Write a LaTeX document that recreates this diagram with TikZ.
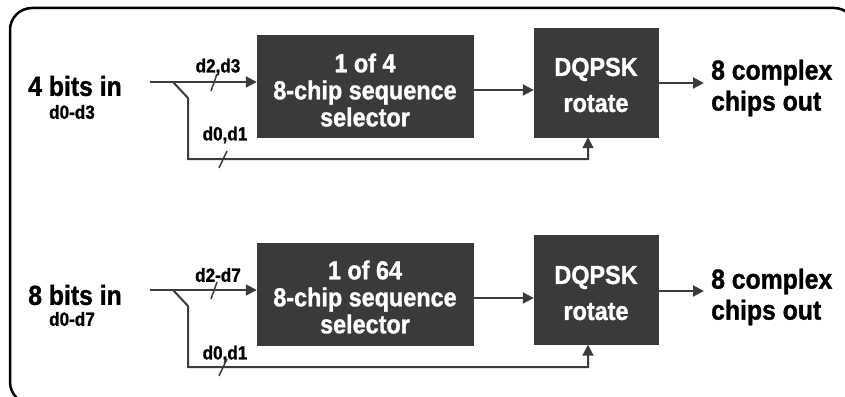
\documentclass[tikz,border=0pt]{standalone}
\usepackage{fontspec}
\setmainfont{Liberation Sans}[FakeStretch=0.9, BoldFeatures={FakeBold=1.2}]
\usetikzlibrary{arrows.meta}
\definecolor{boxgray}{HTML}{3A3A3A}
\definecolor{linegray}{HTML}{3C3C3C}
\begin{document}
\begin{tikzpicture}[x=1pt,y=-1pt,
  blk/.style={fill=boxgray, draw=boxgray, inner sep=0pt},
  dqblk/.style={blk, minimum width=124pt, minimum height=109pt},
  selblk/.style={blk, minimum width=216pt, minimum height=102pt},
  seltext/.style={text=white, font=\bfseries\fontsize{26}{27}\selectfont, align=center, inner sep=0pt},
  dqtext/.style={text=white, font=\bfseries\fontsize{26}{36}\selectfont, align=center, inner sep=0pt},
  conn/.style={draw=linegray, line width=2pt},
  arr/.style={conn, -{Triangle[length=11pt,width=11pt]}},
  big/.style={font=\bfseries\fontsize{27.5}{31}\selectfont, inner sep=0pt},
  lab/.style={font=\bfseries\fontsize{19}{19}\selectfont, inner sep=0pt},
  tick/.style={draw=linegray, line width=1.5pt}]
\useasboundingbox (0,0) rectangle (845,396);
\begin{scope}
\clip (0,0) rectangle (845,396);
\draw[line width=2.5pt, rounded corners=22pt] (10,8) rectangle (856,404);
\end{scope}

% ---------- row 1 ----------
\node[big] (in1) at (75,86) {4 bits in};
\node[lab] (in1s) at (72,112) {d0-d3};
\coordinate (src1) at (150,82);
\coordinate (br1) at (173,82);
\coordinate (bd1) at (188,98);
\coordinate (lo1) at (588,159);
\coordinate (o1) at (704,83);
\node[selblk] (sel1) at (365,86) {};
\node[seltext] (sel1t) at (365,90) {1 of 4\\8-chip sequence\\selector};
\node[dqblk] (dq1) at (596,82.5) {};
\node[dqtext] (dq1t) at (596,85) {DQPSK\\rotate};
\node[big, anchor=west, align=left] (out1) at (711,88) {8 complex\\chips out};
\node[lab] (l1a) at (218,67) {d2,d3};
\node[lab] (l1b) at (225,135) {d0,d1};
\draw[arr] (src1) -- (sel1.west |- src1);
\draw[arr] (br1) -- (bd1) -- (bd1 |- lo1) -- (lo1) -- (lo1 |- dq1.south);
\draw[arr] (sel1.east |- 0,90) -- (dq1.west |- 0,90);
\draw[arr] (dq1.east |- o1) -- (o1);
\coordinate (t1a) at (214,82);
\coordinate (t1b) at (223,159);
\draw[tick] ([shift={(-3,9)}]t1a) -- ([shift={(3,-8)}]t1a);
\draw[tick] ([shift={(-4,9)}]t1b) -- ([shift={(4,-8)}]t1b);

% ---------- row 2 ----------
\node[big] (in2) at (75,295) {8 bits in};
\node[lab] (in2s) at (72,319) {d0-d7};
\coordinate (src2) at (150,290);
\coordinate (br2) at (173,290);
\coordinate (bd2) at (188,306);
\coordinate (lo2) at (588,367);
\coordinate (o2) at (704,291);
\node[selblk] (sel2) at (365,294) {};
\node[seltext] (sel2t) at (365,297) {1 of 64\\8-chip sequence\\selector};
\node[dqblk] (dq2) at (596,290) {};
\node[dqtext] (dq2t) at (596,293) {DQPSK\\rotate};
\node[big, anchor=west, align=left] (out2) at (711,297) {8 complex\\chips out};
\node[lab] (l2a) at (218,275) {d2-d7};
\node[lab] (l2b) at (225,354) {d0,d1};
\draw[arr] (src2) -- (sel2.west |- src2);
\draw[arr] (br2) -- (bd2) -- (bd2 |- lo2) -- (lo2) -- (lo2 |- dq2.south);
\draw[arr] (sel2.east |- 0,298) -- (dq2.west |- 0,298);
\draw[arr] (dq2.east |- o2) -- (o2);
\coordinate (t2a) at (214,290);
\coordinate (t2b) at (223,367);
\draw[tick] ([shift={(-3,9)}]t2a) -- ([shift={(3,-8)}]t2a);
\draw[tick] ([shift={(-4,9)}]t2b) -- ([shift={(4,-8)}]t2b);
\end{tikzpicture}
\end{document}
